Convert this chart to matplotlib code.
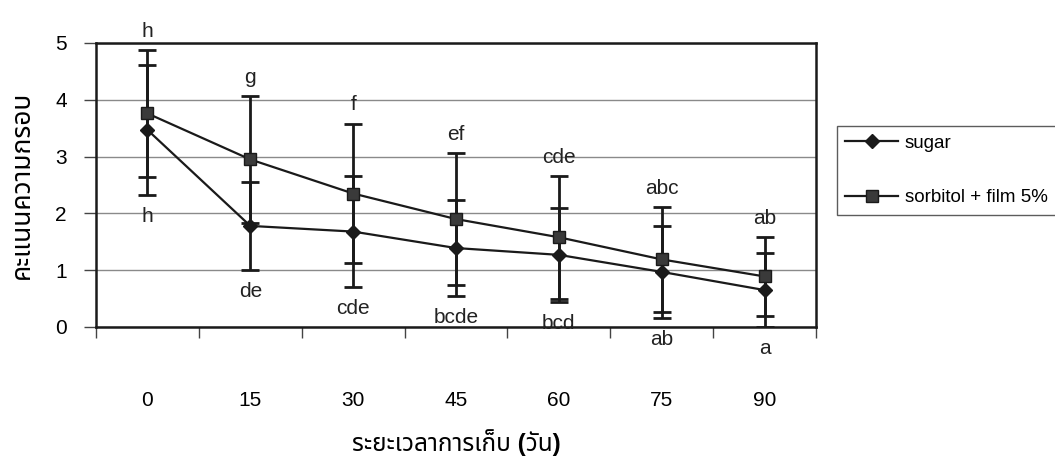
import matplotlib
matplotlib.use("Agg")
import matplotlib.pyplot as plt
import numpy as np

plt.rcParams['font.family'] = ['Liberation Sans', 'Noto Sans Thai', 'Sarabun', 'Loma', 'Garuda', 'FreeSerif', 'DejaVu Sans']

days = ["0", "15", "30", "45", "60", "75", "90"]
sugar = [3.47, 1.78, 1.68, 1.39, 1.27, 0.97, 0.65]
sugar_err = [1.14, 0.78, 0.98, 0.85, 0.83, 0.81, 0.65]
sorbitol = [3.76, 2.95, 2.35, 1.90, 1.58, 1.19, 0.89]
sorbitol_err = [1.12, 1.12, 1.23, 1.16, 1.08, 0.92, 0.69]
sugar_letters = ["h", "de", "cde", "bcde", "bcd", "ab", "a"]
sorbitol_letters = ["h", "g", "f", "ef", "cde", "abc", "ab"]
y_ticks = [0, 1, 2, 3, 4, 5]
xlabel = "ระยะเวลาการเก็บ (วัน)"
ylabel = "คะแนนความกรอบ"
series_names = ["sugar", "sorbitol + film 5%"]

fig = plt.figure(figsize=(10.55, 4.66), dpi=100)
ax = fig.add_axes([96/1055, 1-327/466, 720/1055, 284/466])

x = np.arange(len(days))
ink = "#1a1a1a"

ax.errorbar(x, sorbitol, yerr=sorbitol_err, fmt='none', ecolor=ink, elinewidth=2, capsize=6.5, capthick=2, zorder=3)
ax.errorbar(x, sugar, yerr=sugar_err, fmt='none', ecolor=ink, elinewidth=2, capsize=6.5, capthick=2, zorder=3)
l1, = ax.plot(x, sugar, color=ink, lw=1.6, marker='D', ms=7, mfc=ink, mec=ink, zorder=4, label=series_names[0])
l2, = ax.plot(x, sorbitol, color=ink, lw=1.6, marker='s', ms=9, mfc="#3a3a3a", mec=ink, zorder=4, label=series_names[1])

for i in range(len(days)):
    ax.annotate(sorbitol_letters[i], (x[i], sorbitol[i] + sorbitol_err[i]), xytext=(0, 13.5),
                textcoords='offset points', ha='center', va='center', fontsize=15, color="#222222",
                annotation_clip=False)
    ax.annotate(sugar_letters[i], (x[i], sugar[i] - sugar_err[i]), xytext=(0, -15.5),
                textcoords='offset points', ha='center', va='center', fontsize=15, color="#222222",
                annotation_clip=False)

ax.set_xlim(-0.5, len(days) - 0.5)
ax.set_ylim(0, 5)
ax.set_yticks(y_ticks)
ax.set_yticklabels([str(v) for v in y_ticks], fontsize=15)
ax.set_xticks(x)
ax.set_xticklabels(days, fontsize=15)
ax.set_xticks(np.arange(-0.5, len(days)), minor=True)
ax.tick_params(axis='x', which='major', length=0, pad=46)
ax.tick_params(axis='x', which='minor', length=8, width=1, color="#444444")
ax.tick_params(axis='y', which='major', length=9, width=1, color="#444444", pad=12)
ax.grid(axis='y', color="#8a8a8a", lw=1)
ax.set_axisbelow(True)
for s in ax.spines.values():
    s.set_linewidth(1.8)
    s.set_color(ink)

ax.set_xlabel(xlabel, fontsize=17.5, fontweight='bold', labelpad=14)
ax.set_ylabel(ylabel, fontsize=19, fontweight='bold', labelpad=15)

leg = fig.legend(handles=[l1, l2], loc='upper left', bbox_to_anchor=(837/1055, 1-126/466),
                 fontsize=13.5, frameon=True, fancybox=False, handlelength=2.8, handletextpad=0.37,
                 labelspacing=2.0, borderpad=0.45, borderaxespad=0)
leg.get_frame().set_edgecolor("#333333")
leg.get_frame().set_linewidth(1)

fig.savefig("out.png", dpi=100)
